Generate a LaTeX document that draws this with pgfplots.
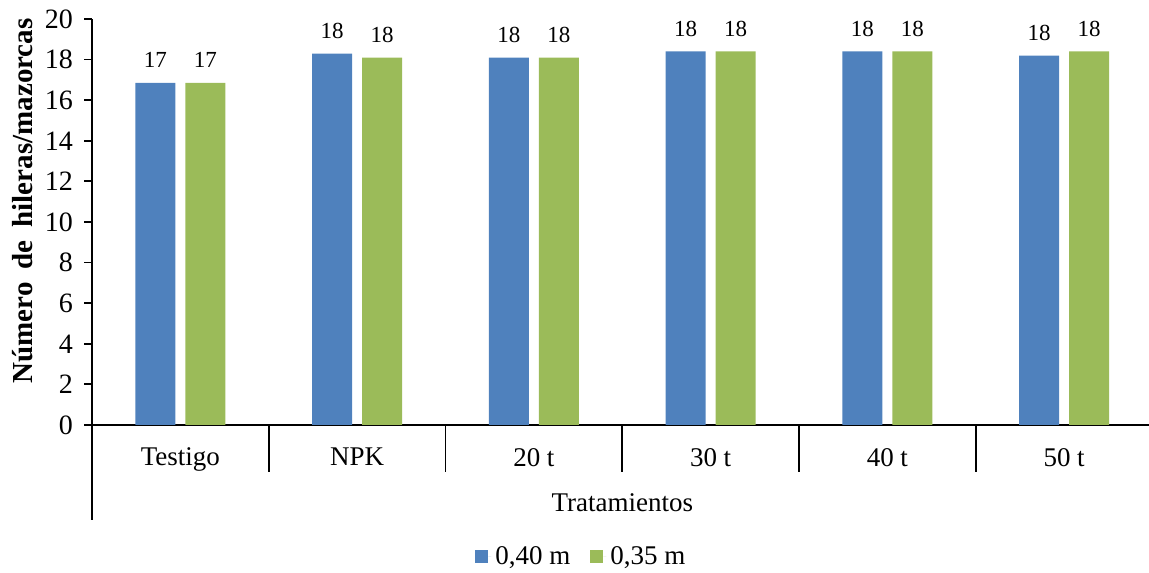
\documentclass[border=0pt]{standalone}
\usepackage{fontspec}
\setmainfont{Liberation Serif}
\usepackage{pgfplots}
\pgfplotsset{compat=1.18}
\definecolor{cblue}{HTML}{4F81BD}
\definecolor{cgreen}{HTML}{9BBB59}
\begin{document}
\begin{tikzpicture}
\begin{axis}[
  at={(46pt,73.5pt)}, anchor=south west,
  scale only axis, width=530.25pt, height=203pt,
  xmin=-0.5, xmax=5.5, ymin=0, ymax=20,
  clip=false,
  axis x line*=bottom, axis y line*=left,
  axis line style={-, black, line width=0.9pt},
  ybar=5pt, bar width=20pt,
  ytick={0,2,...,20},
  tick align=outside, major tick length=4pt,
  ytick style={black, line width=0.9pt},
  xtick={0,...,5},
  xticklabels={Testigo,NPK,20 t,30 t,40 t,50 t},
  xtick style={draw=none},
  xticklabel style={font=\fontsize{13.5}{15}\selectfont, yshift=-4pt},
  yticklabel style={font=\fontsize{14}{16}\selectfont, xshift=-2pt},
  /pgf/number format/.cd, fixed, precision=0, assume math mode=true, /pgfplots/.cd,
  point meta=y,
  nodes near coords,
  nodes near coords style={font=\fontsize{11.5}{13}\selectfont, yshift=4pt},
  xlabel={Tratamientos},
  xlabel style={at={(axis description cs:0.5,-0.192)}, anchor=center, font=\fontsize{13.5}{15}\selectfont},
  ylabel={Número\hspace{0.2em} de\hspace{0.2em} hileras/mazorcas},
  ylabel style={at={(axis description cs:-0.065,0.552)}, anchor=center, rotate=0, font=\bfseries\fontsize{14.5}{16}\selectfont},
  legend style={at={(axis description cs:0.4625,-0.325)}, anchor=center, draw=none,
    legend columns=2, font=\fontsize{13.5}{15}\selectfont,
    /tikz/every even column/.append style={column sep=8pt}},
  legend image code/.code={\path[#1, draw=none] (0pt,-3.25pt) rectangle (6.5pt,3.25pt); \path (6.5pt,0) -- (8pt,0);},
]
\addplot[fill=cblue, draw=none] coordinates {(0,16.85) (1,18.3) (2,18.1) (3,18.4) (4,18.4) (5,18.2)};
\addplot[fill=cgreen, draw=none] coordinates {(0,16.85) (1,18.1) (2,18.1) (3,18.4) (4,18.4) (5,18.4)};
\legend{0{,}40 m, 0{,}35 m}
\end{axis}
\begin{scope}[shift={(46pt,73.5pt)}]
\draw[line width=0.9pt] (0,0) -- (0,-47.5pt);
\foreach \i in {1,...,5} \draw[line width=0.9pt] (\i*88.375pt,0) -- ++(0,-23.5pt);
\end{scope}
\pgfresetboundingbox
\useasboundingbox (0,0) rectangle (574.5pt,286pt);
\end{tikzpicture}
\end{document}
